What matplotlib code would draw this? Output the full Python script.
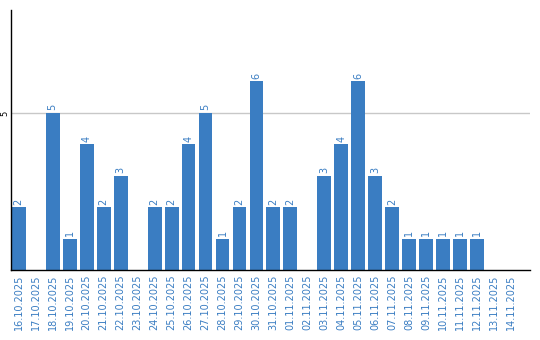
import numpy as np
import matplotlib.pyplot as plt

# Daten
datum = ['16.10.2025', '17.10.2025', '18.10.2025', '19.10.2025', '20.10.2025',
         '21.10.2025', '22.10.2025', '23.10.2025', '24.10.2025', '25.10.2025',
         '26.10.2025', '27.10.2025', '28.10.2025', '29.10.2025', '30.10.2025',
         '31.10.2025', '01.11.2025', '02.11.2025', '03.11.2025', '04.11.2025',
         '05.11.2025', '06.11.2025', '07.11.2025', '08.11.2025', '09.11.2025',
         '10.11.2025', '11.11.2025', '12.11.2025', '13.11.2025', '14.11.2025']
anzahl = [2, 0, 5, 1, 4, 2, 3, 0, 2, 2, 4, 5, 1, 2, 6, 2, 2, 0, 3, 4, 6, 3, 2,
          1, 1, 1, 1, 1, 0, 0]

farbe = '#3a7dc2'

fig = plt.figure(figsize=(5.4, 3.4), dpi=100)
ax = fig.add_axes([0.0204, 0.206, 0.961, 0.765])

x = np.arange(len(datum))
ax.axhline(5, color='#c8c8c8', lw=1, zorder=0)
balken = ax.bar(x, anzahl, width=0.82, color=farbe, zorder=2)

# Werte über den Balken
for xi, v in zip(x, anzahl):
    if v > 0:
        ax.text(xi, v + 0.08, str(v), rotation=90, ha='center', va='bottom',
                color=farbe, fontsize=7)

ax.set_xlim(-0.45, 30.1)
ax.set_ylim(0, 8.28)
ax.set_xticks(x)
ax.set_xticklabels(datum, rotation=90, color=farbe, fontsize=7)
ax.set_yticks([5])
ax.set_yticklabels(['5'], rotation=90, va='center', fontsize=6)
ax.tick_params(axis='x', length=0, pad=3)
ax.tick_params(axis='y', length=0, pad=1.5)
ax.spines['top'].set_visible(False)
ax.spines['right'].set_visible(False)
ax.spines['left'].set_linewidth(1)
ax.spines['bottom'].set_linewidth(1)

fig.savefig('out.png', dpi=100)
